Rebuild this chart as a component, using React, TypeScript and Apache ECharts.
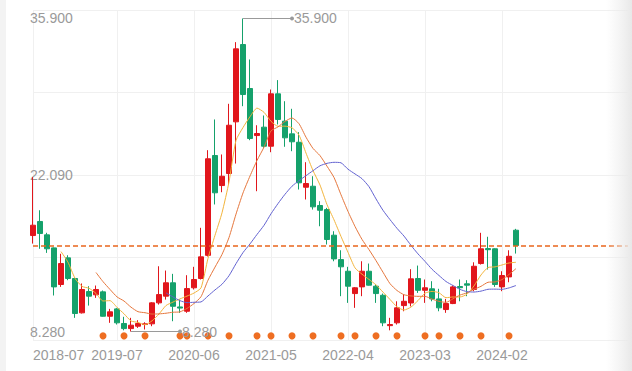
import React, { useEffect, useRef } from 'react';
import * as echarts from 'echarts';

const months = [
  '2018-07','2018-08','2018-09','2018-10','2018-11','2018-12',
  '2019-01','2019-02','2019-03','2019-04','2019-05','2019-06','2019-07','2019-08','2019-09','2019-10','2019-11','2019-12',
  '2020-01','2020-02','2020-03','2020-04','2020-05','2020-06','2020-07','2020-08','2020-09','2020-10','2020-11','2020-12',
  '2021-01','2021-02','2021-03','2021-04','2021-05','2021-06','2021-07','2021-08','2021-09','2021-10','2021-11','2021-12',
  '2022-01','2022-02','2022-03','2022-04','2022-05','2022-06','2022-07','2022-08','2022-09','2022-10','2022-11','2022-12',
  '2023-01','2023-02','2023-03','2023-04','2023-05','2023-06','2023-07','2023-08','2023-09','2023-10','2023-11','2023-12',
  '2024-01','2024-02','2024-03','2024-04',
];
const futureSlots = 16;

const opens = [
  16.75, 17.99, 16.81, 15.66, 12.43, 14.78, 12.96, 9.93, 11.81, 11.52,
  11.78, 9.63, 10.28, 8.99, 8.54, 8.75, 8.90, 8.96, 10.81, 11.40,
  12.58, 10.45, 10.07, 12.14, 12.96, 15.00, 23.81, 21.16, 22.22, 26.78,
  33.60, 29.72, 25.57, 26.31, 24.63, 29.25, 26.84, 25.72, 24.98, 21.01,
  21.10, 19.40, 19.04, 16.78, 14.63, 13.60, 11.63, 12.22, 13.60, 12.28,
  11.48, 8.80, 9.05, 10.57, 10.80, 12.96, 11.92, 12.05, 11.16, 10.22,
  10.75, 12.25, 12.49, 11.99, 14.28, 15.60, 15.58, 12.22, 13.10, 17.22,
];
const closes = [
  17.66, 16.93, 15.58, 12.22, 14.28, 12.96, 9.87, 11.99, 11.40, 11.99,
  9.63, 10.02, 9.05, 8.54, 8.84, 8.99, 8.96, 10.81, 11.54, 12.58,
  10.51, 10.35, 12.07, 12.87, 14.87, 23.52, 20.52, 21.98, 26.48, 33.22,
  29.19, 25.31, 25.75, 24.63, 29.25, 26.99, 25.37, 25.02, 21.40, 21.34,
  19.28, 18.98, 16.40, 14.69, 13.99, 12.28, 12.14, 13.60, 12.37, 11.63,
  9.05, 8.90, 10.37, 10.95, 12.93, 11.92, 12.14, 11.16, 10.37, 10.75,
  12.22, 12.15, 12.37, 14.04, 15.58, 15.50, 12.43, 13.22, 14.92, 15.87,
];
const lows = [
  16.04, 15.58, 15.22, 11.46, 12.22, 12.81, 9.49, 9.87, 10.57, 11.25,
  9.60, 9.05, 8.90, 8.39, 8.28, 8.60, 8.46, 8.75, 10.66, 11.10,
  9.19, 9.93, 9.93, 11.99, 12.87, 14.90, 19.49, 20.57, 21.25, 23.10,
  28.16, 25.16, 20.66, 24.49, 24.10, 26.55, 24.58, 24.19, 20.81, 19.93,
  19.04, 17.57, 15.96, 14.48, 11.40, 10.81, 10.37, 11.40, 12.34, 10.81,
  8.75, 8.39, 8.90, 10.07, 10.50, 11.69, 10.81, 10.95, 10.07, 9.93,
  10.70, 10.95, 11.40, 11.84, 14.19, 13.75, 12.22, 11.84, 12.63, 15.16,
];
const highs = [
  21.90, 18.98, 16.99, 15.70, 15.14, 15.01, 13.00, 12.52, 12.28, 12.34,
  11.90, 10.28, 10.37, 9.58, 9.49, 9.28, 9.10, 10.87, 14.04, 13.66,
  13.37, 11.10, 13.25, 13.99, 17.43, 24.28, 26.99, 23.90, 28.37, 33.81,
  35.90, 32.28, 26.48, 27.34, 29.63, 30.46, 28.60, 27.93, 25.87, 23.22,
  21.98, 19.78, 19.19, 17.13, 15.45, 13.99, 12.20, 14.48, 14.28, 12.43,
  11.63, 9.49, 10.95, 11.55, 13.78, 14.10, 12.87, 12.72, 12.05, 11.16,
  12.34, 12.87, 12.81, 14.39, 16.99, 16.64, 15.62, 13.60, 15.45, 17.34,
];
const eventIndices = [10, 13, 16, 21, 22, 25, 28, 32, 34, 37, 40, 44, 46, 49, 52, 56, 58, 61, 64, 68];
const maPeriods = [5, 10, 20];
const maColors = ['#f2b43c', '#e5763c', '#6262d0'];

function movingAverage(n: number) {
  return closes.map((_, i) => {
    if (i < n - 1) return '-';
    let s = 0;
    for (let k = i - n + 1; k <= i; k++) s += closes[k];
    return +(s / n).toFixed(3);
  });
}

export default function App() {
  const ref = useRef<HTMLDivElement>(null);
  useEffect(() => {
    if (!ref.current) return;
    const chart = echarts.init(ref.current, null, { renderer: 'svg' });
    const categories = months.concat(Array.from({ length: futureSlots }, () => ''));
    const last = months.length - 1;
    const hi = Math.max(...highs);
    const lo = Math.min(...lows);
    const hiIdx = highs.indexOf(hi);
    const loIdx = lows.indexOf(lo);
    const mid = (hi + lo) / 2;
    const pad = (hi - lo) * 0.027;
    const labelIdx = (i: number) => i === 0 || (i >= 12 && (i - 1) % 11 === 0 && i <= last);
    const grey = '#9a9a9a';
    const dashColor = '#e9661c';

    chart.setOption({
      animation: false,
      backgroundColor: '#ffffff',
      grid: { left: 33, right: 4, top: 10, bottom: 31 },
      xAxis: {
        type: 'category',
        data: categories,
        boundaryGap: false,
        axisLine: { show: false },
        axisTick: { show: false },
        axisLabel: {
          interval: (i: number) => labelIdx(i),
          color: grey,
          fontSize: 14,
          margin: 8,
          fontFamily: 'Liberation Sans, Arial, sans-serif',
          alignMinLabel: 'left',
        },
        splitLine: {
          show: true,
          interval: (i: number) => labelIdx(i),
          lineStyle: { color: '#f0f0f0', width: 1 },
        },
      },
      yAxis: [
        {
          type: 'value',
          min: lo - pad,
          max: hi + pad,
          scale: true,
          axisLine: { show: false },
          axisTick: { show: false },
          splitLine: { show: false },
          axisLabel: {
            customValues: [lo, mid, hi],
            formatter: (v: number) => v.toFixed(3),
            inside: true,
            margin: -3,
            color: grey,
            fontSize: 14,
            fontFamily: 'Liberation Sans, Arial, sans-serif',
            verticalAlign: 'middle',
            padding: [4, 0, 0, 0],
          },
        },
        {
          type: 'value',
          position: 'right',
          min: 0,
          max: 4,
          interval: 1,
          axisLine: { show: false },
          axisTick: { show: false },
          axisLabel: { show: false },
          splitLine: { show: true, lineStyle: { color: '#f0f0f0', width: 1 } },
        },
      ],
      series: [
        {
          type: 'candlestick',
          yAxisIndex: 0,
          barWidth: 5,
          data: opens.map((o, i) => [o, closes[i], lows[i], highs[i]]),
          itemStyle: {
            color: '#e1161c',
            color0: '#15a16b',
            borderColor: '#e1161c',
            borderColor0: '#15a16b',
            borderWidth: 1,
          },
          markLine: {
            silent: true,
            symbol: ['none', 'circle'],
            symbolSize: 4,
            lineStyle: { color: '#9a9a9a', type: 'solid', width: 1 },
            label: {
              show: true,
              position: 'end',
              distance: 2,
              color: grey,
              fontSize: 14,
              fontFamily: 'Liberation Sans, Arial, sans-serif',
              formatter: (p: any) => Number(p.value).toFixed(3),
            },
            emphasis: { disabled: true },
            data: [
              [{ coord: [hiIdx, hi], value: hi }, { coord: [hiIdx + 7, hi], value: hi }],
              [{ coord: [loIdx, lo], value: lo }, { coord: [loIdx + 7, lo], value: lo }],
            ],
          },
        },
        ...maPeriods.map((n, k) => ({
          type: 'line',
          yAxisIndex: 0,
          data: movingAverage(n),
          showSymbol: false,
          smooth: 0.2,
          lineStyle: { color: maColors[k], width: 1 },
          itemStyle: { color: maColors[k] },
          ...(k === 0
            ? {
                markLine: {
                  silent: true,
                  symbol: 'none',
                  label: { show: false },
                  emphasis: { disabled: true },
                  lineStyle: { color: dashColor, type: [5, 3], width: 1.5, opacity: 1 },
                  data: [
                    {
                      yAxis: closes[last],
                      lineStyle: { color: dashColor, type: [5, 3], width: 1.5, opacity: 1 },
                    },
                  ],
                },
              }
            : {}),
        })),
        {
          type: 'scatter',
          yAxisIndex: 1,
          data: eventIndices.map((i) => [i, 0.05]),
          symbolSize: 7,
          itemStyle: { color: '#ee6e22', opacity: 1 },
          silent: true,
        },
      ],
      graphic: [
        {
          type: 'rect',
          left: 0,
          top: 0,
          z: 100,
          shape: { width: 6, height: 371 },
          style: { fill: '#f3f3f3' },
        },
        {
          type: 'rect',
          right: 0,
          top: 0,
          z: 100,
          shape: { width: 26, height: 371 },
          style: {
            fill: new echarts.graphic.LinearGradient(0, 0, 1, 0, [
              { offset: 0, color: 'rgba(238,238,238,0)' },
              { offset: 1, color: 'rgba(232,232,232,1)' },
            ]),
          },
        },
      ],
    });
    return () => chart.dispose();
  }, []);
  return (
    <div
      ref={ref}
      style={{ position: 'fixed', left: 0, top: 0, width: 632, height: 371, background: '#fff' }}
    />
  );
}
